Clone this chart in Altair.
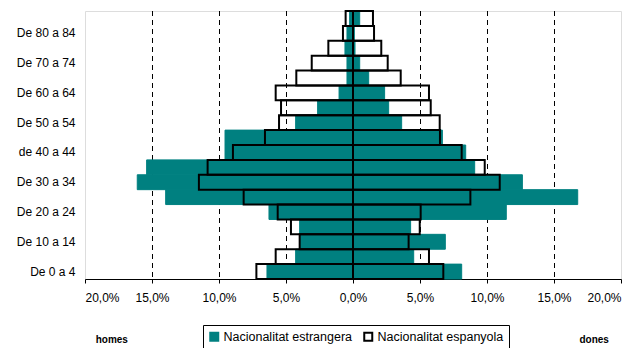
import altair as alt
import pandas as pd

ages = ["De 0 a 4", "De 5 a 9", "De 10 a 14", "De 15 a 19", "De 20 a 24", "De 25 a 29",
        "De 30 a 34", "De 35 a 39", "de 40 a 44", "De 45 a 49", "De 50 a 54", "De 55 a 59",
        "De 60 a 64", "De 65 a 69", "De 70 a 74", "De 75 a 79", "De 80 a 84", "De 85 i més"]
shown_labels = ["De 0 a 4", "De 10 a 14", "De 20 a 24", "De 30 a 34", "de 40 a 44",
                "De 50 a 54", "De 60 a 64", "De 70 a 74", "De 80 a 84"]

men_foreign = [6.42, 4.28, 3.95, 3.98, 6.27, 13.98, 16.1, 15.4, 9.55, 9.55, 4.28, 2.64,
               1.04, 0.45, 0.45, 0.6, 0.45, 0.25]
men_spanish = [7.21, 5.77, 3.98, 4.63, 5.62, 8.16, 11.5, 10.85, 8.96, 6.57, 5.52, 5.37,
               5.77, 4.23, 3.08, 1.84, 0.75, 0.55]
women_foreign = [8.11, 4.53, 6.89, 4.3, 11.44, 16.77, 12.64, 9.08, 8.41, 6.67, 3.63, 2.66,
                 2.36, 1.17, 0.5, 0.15, 0.1, 0.5]
women_spanish = [6.74, 5.67, 4.15, 4.98, 5.05, 8.76, 10.95, 9.83, 8.11, 6.49, 6.47, 5.8,
                 5.67, 3.56, 2.59, 2.11, 1.57, 1.49]

EST = "Nacionalitat estrangera"
ESP = "Nacionalitat espanyola"
x_ticks = [-20, -15, -10, -5, 0, 5, 10, 15, 20]
grid_vals = [-15, -10, -5, 5, 10, 15]
side_labels = ["homes", "dones"]
side_pos = [-18, 18]

rows = []
for i, a in enumerate(ages):
    rows.append({"age": a, "nat": EST, "value": -men_foreign[i]})
    rows.append({"age": a, "nat": EST, "value": women_foreign[i]})
    rows.append({"age": a, "nat": ESP, "value": -men_spanish[i]})
    rows.append({"age": a, "nat": ESP, "value": women_spanish[i]})
df = pd.DataFrame(rows)
side_df = pd.DataFrame({"label": side_labels, "pos": side_pos})
grid_df = pd.DataFrame({"g": grid_vals})

FONT = "Liberation Sans"
order = list(reversed(ages))

x_scale = alt.Scale(domain=[-20, 20], nice=False, zero=False)
x_enc = alt.X("value:Q", stack=None, scale=x_scale,
              axis=alt.Axis(values=x_ticks, title=None,
                            labelExpr="replace(format(abs(datum.value)/100, '.1%'), '.', ',')",
                            grid=False,
                            domainColor="#000000", tickColor="#000000", tickSize=4,
                            labelPadding=9, labelFont=FONT, labelFontSize=12,
                            labelColor="#000000"))
y_enc = alt.Y("age:N", sort=order,
              scale=alt.Scale(paddingInner=0, paddingOuter=0),
              axis=alt.Axis(values=shown_labels, title=None, ticks=False, domain=False,
                            grid=False, labelPadding=10, labelFont=FONT, labelFontSize=12,
                            labelColor="#000000"))

fill_scale = alt.Scale(domain=[EST, ESP], range=["#008080", "#ffffff"])
stroke_scale = alt.Scale(domain=[EST, ESP], range=["#008080", "#000000"])
legend = alt.Legend(title=None, orient="none", legendX=118, legendY=314,
                    direction="horizontal", strokeColor="#000000", padding=5,
                    labelFont=FONT, labelFontSize=12.5, labelColor="#000000",
                    symbolType="square", symbolSize=64, symbolStrokeWidth=2,
                    columnPadding=7, labelOffset=3)

grid = alt.Chart(grid_df).mark_rule(color="#000000", strokeWidth=1, strokeDash=[5, 4],
                                    xOffset=0.5).encode(
    x=alt.X("g:Q", scale=x_scale))
teal = alt.Chart(df).transform_filter(alt.datum.nat == EST).mark_bar(strokeWidth=1).encode(
    x=x_enc, y=y_enc,
    fill=alt.Fill("nat:N", scale=fill_scale, legend=legend),
    stroke=alt.Stroke("nat:N", scale=stroke_scale, legend=legend),
)
outline = alt.Chart(df).transform_filter(alt.datum.nat == ESP).mark_bar(
    fill="transparent", strokeWidth=2).encode(
    x=x_enc, y=y_enc,
    stroke=alt.Stroke("nat:N", scale=stroke_scale, legend=None),
)
sides = alt.Chart(side_df).mark_text(font=FONT, fontSize=10, fontWeight="bold",
                                     color="#000000", baseline="middle").encode(
    x=alt.X("pos:Q", scale=x_scale), y=alt.value(329), text="label:N")

chart = alt.layer(grid, teal, outline, sides).properties(
    width=536, height=268,
    autosize=alt.AutoSizeParams(type="none"),
    padding={"left": 77, "top": 3, "right": 10, "bottom": 70},
).configure_view(stroke="#000000", strokeWidth=1).configure(background="#ffffff")

chart.save("out.html", embed_options={"renderer": "svg", "actions": False})
